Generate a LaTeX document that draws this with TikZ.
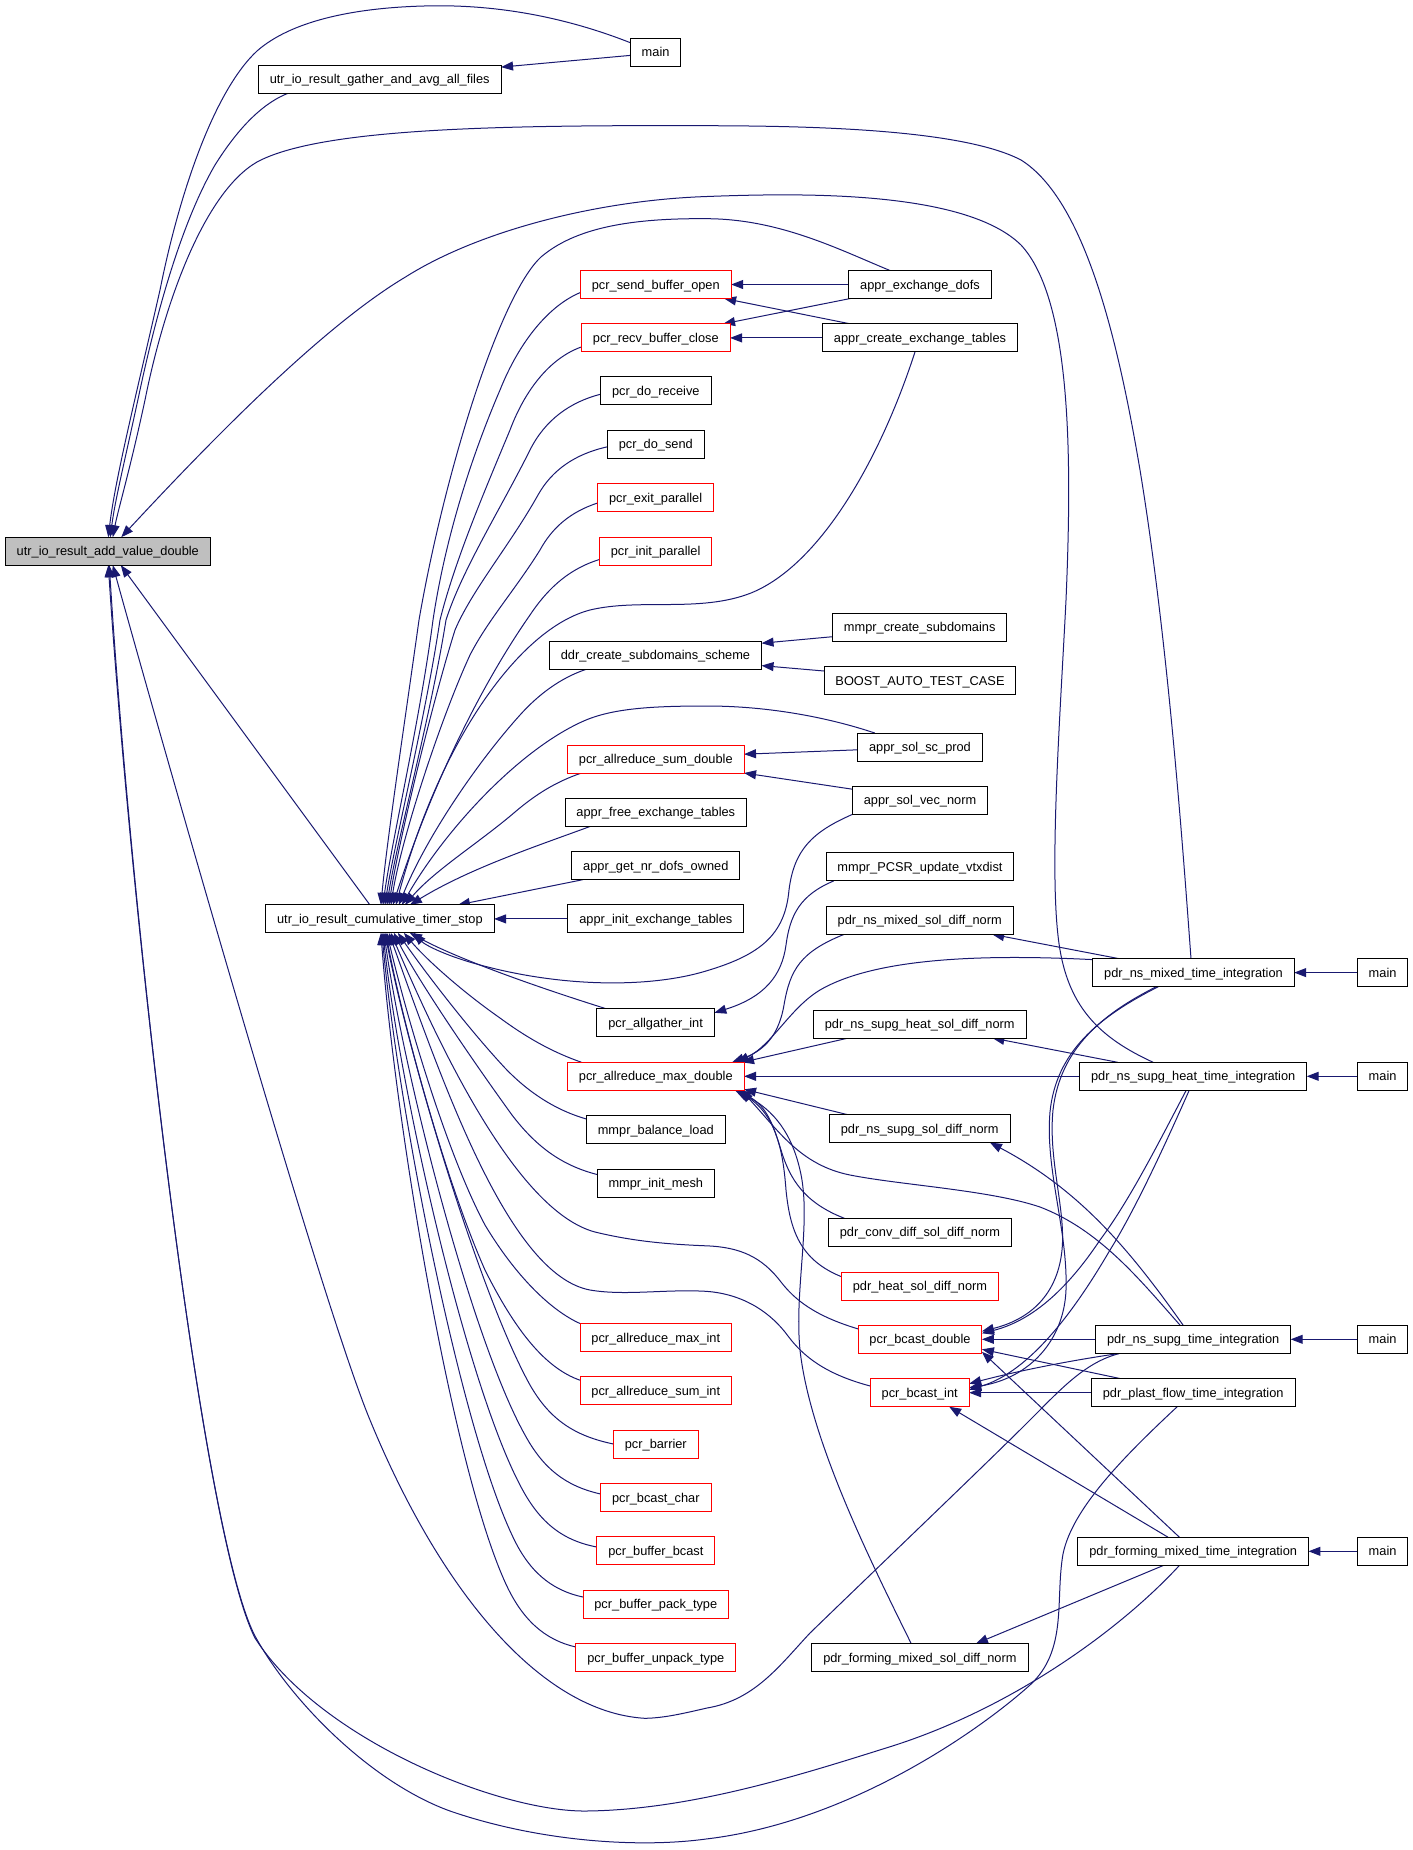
\documentclass[tikz,border=0pt]{standalone}
\usepackage{fontspec}
\setmainfont{Liberation Sans}
\usetikzlibrary{arrows.meta,calc}
\definecolor{edgeblue}{HTML}{191970}
\definecolor{boxgray}{HTML}{BFBFBF}
\pgfdeclarelayer{bg}
\pgfsetlayers{bg,main}
\begin{document}
\begin{tikzpicture}[x=1pt,y=-1pt,
  box/.style={draw=black, fill=white, line width=0.9pt, rectangle, minimum height=28pt,
    inner xsep=11.4pt, inner ysep=0pt, text height=11.5pt, text depth=2.5pt, outer sep=0pt,
    font=\fontsize{12.8pt}{15pt}\selectfont},
  rbox/.style={box, draw=red},
  gbox/.style={box, fill=boxgray},
  callline/.style={draw=edgeblue, line width=1pt, -{Triangle[length=12pt,width=9pt]}}]
\useasboundingbox (0,0) rectangle (1413,1850);
% nodes
\node[gbox] (A) at (107.8,551.2) {utr\_io\_result\_add\_value\_double};
\node[box] (main1) at (655.6,52.4) {main};
\node[box] (G) at (379.7,79.1) {utr\_io\_result\_gather\_and\_avg\_all\_files};
\node[box] (C) at (379.9,918.9) {utr\_io\_result\_cumulative\_timer\_stop};
\node[rbox] (SO) at (655.8,284.5) {pcr\_send\_buffer\_open};
\node[rbox] (RC) at (655.8,337.9) {pcr\_recv\_buffer\_close};
\node[box] (DR) at (655.8,390.9) {pcr\_do\_receive};
\node[box] (DS) at (655.8,444.2) {pcr\_do\_send};
\node[rbox] (EP) at (655.6,497.6) {pcr\_exit\_parallel};
\node[rbox] (IP) at (655.6,551) {pcr\_init\_parallel};
\node[box] (DDR) at (655.5,655.2) {ddr\_create\_subdomains\_scheme};
\node[rbox] (SD) at (655.8,759) {pcr\_allreduce\_sum\_double};
\node[box] (FET) at (655.8,812.2) {appr\_free\_exchange\_tables};
\node[box] (GND) at (655.8,865.6) {appr\_get\_nr\_dofs\_owned};
\node[box] (IET) at (655.8,918.9) {appr\_init\_exchange\_tables};
\node[box] (AG) at (655.6,1022.8) {pcr\_allgather\_int};
\node[rbox] (MD) at (655.8,1076.3) {pcr\_allreduce\_max\_double};
\node[box] (MBL) at (655.8,1129.6) {mmpr\_balance\_load};
\node[box] (MIM) at (655.8,1183) {mmpr\_init\_mesh};
\node[rbox] (AMI) at (655.8,1337.5) {pcr\_allreduce\_max\_int};
\node[rbox] (ASI) at (655.8,1390.7) {pcr\_allreduce\_sum\_int};
\node[rbox] (BAR) at (655.8,1444) {pcr\_barrier};
\node[rbox] (BC) at (655.8,1497.5) {pcr\_bcast\_char};
\node[rbox] (BB) at (655.8,1550.8) {pcr\_buffer\_bcast};
\node[rbox] (PT) at (655.8,1604.3) {pcr\_buffer\_pack\_type};
\node[rbox] (UT) at (655.8,1657.6) {pcr\_buffer\_unpack\_type};
\node[box] (ED) at (920,284.5) {appr\_exchange\_dofs};
\node[box] (CT) at (920,337.9) {appr\_create\_exchange\_tables};
\node[box] (MCS) at (919.7,627) {mmpr\_create\_subdomains};
\node[box] (BOOST) at (920,680.5) {BOOST\_AUTO\_TEST\_CASE};
\node[box] (SCP) at (920,747) {appr\_sol\_sc\_prod};
\node[box] (SVN) at (920,800.4) {appr\_sol\_vec\_norm};
\node[box] (PCSR) at (920,866.9) {mmpr\_PCSR\_update\_vtxdist};
\node[box] (NMSD) at (919.7,920.3) {pdr\_ns\_mixed\_sol\_diff\_norm};
\node[box] (NSHSD) at (919.7,1024) {pdr\_ns\_supg\_heat\_sol\_diff\_norm};
\node[box] (NSSD) at (919.7,1128.5) {pdr\_ns\_supg\_sol\_diff\_norm};
\node[box] (CDSD) at (920,1232.3) {pdr\_conv\_diff\_sol\_diff\_norm};
\node[rbox] (HSD) at (920,1286) {pdr\_heat\_sol\_diff\_norm};
\node[rbox] (BD) at (920,1339.3) {pcr\_bcast\_double};
\node[rbox] (BI) at (919.7,1392.7) {pcr\_bcast\_int};
\node[box] (FMSD) at (919.9,1657.6) {pdr\_forming\_mixed\_sol\_diff\_norm};
\node[box] (NMT) at (1193.5,972.6) {pdr\_ns\_mixed\_time\_integration};
\node[box] (NSHT) at (1193.2,1076.3) {pdr\_ns\_supg\_heat\_time\_integration};
\node[box] (NST) at (1193.2,1339.3) {pdr\_ns\_supg\_time\_integration};
\node[box] (PF) at (1193.2,1392.7) {pdr\_plast\_flow\_time\_integration};
\node[box] (FMT) at (1193.2,1551.3) {pdr\_forming\_mixed\_time\_integration};
\node[box] (main2) at (1382.6,972.6) {main};
\node[box] (main3) at (1382.6,1076.3) {main};
\node[box] (main4) at (1382.6,1339.3) {main};
\node[box] (main5) at (1382.6,1551.3) {main};
\begin{pgfonlayer}{bg}
% ---- into A
\draw[callline] ($(main1.north west)+(0,4.3)$) .. controls (560,15) and (490,4) .. (424,6)
  .. controls (350,8) and (290,22) .. (257,51) .. controls (215,90) and (180,190) .. (160,290)
  .. controls (135,400) and (115,480) .. ($(A.north)+(0.5,0)$);
\draw[callline] ($(G.south west)+(30.2,0)$) .. controls (265,102) and (240,125) .. (215,165)
  .. controls (180,225) and (155,320) .. (140,390) .. controls (125,460) and (115,500) .. ($(A.north)+(2.5,0)$);
\draw[callline] ($(NMT.north)+(-2.5,0)$) .. controls (1183,850) and (1168,640) .. (1140,470)
  .. controls (1118,340) and (1085,200) .. (1021,160) .. controls (960,128) and (800,126) .. (707,125.7)
  .. controls (500,125) and (320,128) .. (257,162) .. controls (205,192) and (165,300) .. (145,400)
  .. controls (130,470) and (118,510) .. ($(A.north)+(5,0)$);
\draw[callline] ($(NSHT.north)+(-40,0)$) .. controls (1100,1038) and (1070,1008) .. (1060,950)
  .. controls (1048,880) and (1060,720) .. (1066,600) .. controls (1072,460) and (1072,300) .. (1021,245)
  .. controls (965,190) and (800,193) .. (707,196.5) .. controls (600,200) and (480,230) .. (405.8,276.8)
  .. controls (330,322) and (230,420) .. ($(A.north)+(13.5,0)$);
\draw[callline] ($(C.north)+(-10,0)$) -- ($(A.south)+(13,0)$);
\draw[callline] ($(NST.south west)+(24.4,0)$) .. controls (1085,1362) and (1060,1390) .. (1030,1420)
  .. controls (985,1465) and (875,1570) .. (810,1633) .. controls (780,1665) and (755,1700) .. (707,1708)
  .. controls (685,1713) and (665,1718) .. (644.8,1718.3) .. controls (540,1712) and (440,1590) .. (370,1420)
  .. controls (320,1300) and (150,700) .. ($(A.south)+(5,0)$);
\draw[callline] ($(PF.south)+(-16,0)$) .. controls (1120,1460) and (1072,1510) .. (1063,1554)
  .. controls (1055,1600) and (1068,1650) .. (1030,1685) .. controls (980,1730) and (850,1822) .. (706,1839)
  .. controls (640,1848) and (540,1842) .. (450,1811) .. controls (370,1782) and (290,1700) .. (255,1636)
  .. controls (200,1530) and (130,900) .. ($(A.south)+(0.5,0)$);
\draw[callline] ($(FMT.south)+(-13.7,0)$) .. controls (1120,1630) and (1010,1710) .. (886,1748)
  .. controls (800,1775) and (690,1810) .. (586,1811) .. controls (500,1812) and (320,1740) .. (255,1638)
  .. controls (200,1530) and (130,900) .. ($(A.south)+(1.5,0)$);
% ---- main -> G
\draw[callline] ($(main1.west)+(0,3)$) -- ($(G.north east)+(0,2)$);
% ---- into C (top)
\draw[callline] ($(ED.north)+(-30,0)$) .. controls (840,250) and (780,219) .. (707,218.7)
  .. controls (630,218) and (575,228) .. (541,257) .. controls (500,295) and (445,470) .. (419,620)
  .. controls (405,720) and (387,840) .. ($(C.north)+(1,0)$);
\draw[callline] ($(SO.west)+(0,8)$) .. controls (550,305) and (520,340) .. (500,390)
  .. controls (470,460) and (445,540) .. (433,620) .. controls (420,720) and (392,840) .. ($(C.north)+(3,0)$);
\draw[callline] ($(RC.west)+(0,9)$) .. controls (550,358) and (525,390) .. (510,430)
  .. controls (485,490) and (455,560) .. (440,620) .. controls (425,720) and (395,840) .. ($(C.north)+(5,0)$);
\draw[callline] ($(DR.west)+(0,3.3)$) .. controls (570,402) and (545,420) .. (530,450)
  .. controls (500,510) and (462,570) .. (446,620) .. controls (430,720) and (397,840) .. ($(C.north)+(7,0)$);
\draw[callline] ($(DS.west)+(0,2.6)$) .. controls (575,454) and (552,470) .. (538,495)
  .. controls (510,545) and (472,590) .. (455,630) .. controls (433,700) and (399,840) .. ($(C.north)+(9,0)$);
\draw[callline] ($(EP.west)+(0,5.4)$) .. controls (570,512) and (552,528) .. (540,550)
  .. controls (515,590) and (488,620) .. (470,655) .. controls (440,720) and (401,840) .. ($(C.north)+(11,0)$);
\draw[callline] ($(IP.west)+(0,8.5)$) .. controls (572,568) and (550,585) .. (530,615)
  .. controls (495,665) and (440,760) .. ($(C.north)+(13,0)$);
\draw[callline] ($(CT.south)+(-5,0)$) .. controls (880,460) and (820,565) .. (751,593)
  .. controls (700,613) and (640,598) .. (590,610) .. controls (520,628) and (440,740) .. ($(C.north)+(16,0)$);
\draw[callline] ($(DDR.south west)+(37,0)$) .. controls (560,678) and (538,695) .. (520,715)
  .. controls (475,765) and (425,840) .. ($(C.north)+(19,0)$);
\draw[callline] ($(SCP.north west)+(17,0)$) .. controls (830,718) and (770,706) .. (707,706)
  .. controls (655,706) and (615,708) .. (586,720) .. controls (520,748) and (445,830) .. ($(C.north)+(22,0)$);
\draw[callline] ($(SD.south west)+(14,0)$) .. controls (555,782) and (535,795) .. (515,812)
  .. controls (480,842) and (435,870) .. ($(C.north)+(25,0)$);
\draw[callline] ($(FET.south west)+(25.7,0)$) .. controls (540,845) and (470,868) .. ($(C.north)+(30,0)$);
\draw[callline] ($(GND.south west)+(11.3,0)$) -- ($(C.north)+(78,0)$);
\draw[callline] (IET.west) -- (C.east);
% ---- into C (bottom)
\draw[callline] (SVN.south west) .. controls (812,832) and (794,850) .. (789,890)
  .. controls (785,935) and (760,955) .. (706,971) .. controls (650,988) and (560,988) .. (473,963)
  .. controls (445,955) and (425,945) .. ($(C.south)+(34,0)$);
\draw[callline] ($(AG.north west)+(9.5,0)$) .. controls (540,988) and (460,960) .. ($(C.south)+(30,0)$);
\draw[callline] ($(MD.north west)+(14,0)$) .. controls (555,1053) and (530,1040) .. (500,1018)
  .. controls (460,990) and (425,958) .. ($(C.south)+(24,0)$);
\draw[callline] ($(MBL.north west)+(0,3.4)$) .. controls (555,1110) and (528,1092) .. (505,1068)
  .. controls (465,1025) and (420,965) .. ($(C.south)+(18,0)$);
\draw[callline] ($(MIM.north west)+(0,5.5)$) .. controls (560,1165) and (535,1145) .. (512,1115)
  .. controls (465,1050) and (415,975) .. ($(C.south)+(14,0)$);
\draw[callline] ($(BD.west)+(0,-10.4)$) .. controls (815,1316) and (795,1300) .. (781,1282)
  .. controls (762,1257) and (740,1247) .. (706,1245.8) .. controls (660,1244) and (628,1240) .. (595,1232)
  .. controls (520,1212) and (445,1060) .. ($(C.south)+(11,0)$);
\draw[callline] ($(BI.west)+(0,-6.7)$) .. controls (825,1374) and (803,1356) .. (788,1336)
  .. controls (772,1314) and (745,1294) .. (706,1291.3) .. controls (665,1289) and (625,1296) .. (590,1290)
  .. controls (510,1275) and (445,1090) .. ($(C.south)+(9,0)$);
\draw[callline] (AMI.north west) .. controls (550,1310) and (515,1275) .. (485,1225)
  .. controls (445,1150) and (405,1010) .. ($(C.south)+(7,0)$);
\draw[callline] ($(ASI.west)+(0,-10.5)$) .. controls (545,1368) and (515,1330) .. (485,1270)
  .. controls (445,1180) and (402,1020) .. ($(C.south)+(6,0)$);
\draw[callline] (BAR.west) .. controls (575,1436) and (550,1420) .. (530,1385)
  .. controls (480,1295) and (410,1060) .. ($(C.south)+(5,0)$);
\draw[callline] ($(BC.west)+(0,-3.5)$) .. controls (565,1486) and (543,1468) .. (525,1435)
  .. controls (472,1340) and (405,1080) .. ($(C.south)+(4,0)$);
\draw[callline] ($(BB.west)+(0,-3.8)$) .. controls (560,1540) and (538,1520) .. (520,1485)
  .. controls (465,1380) and (400,1090) .. ($(C.south)+(3,0)$);
\draw[callline] ($(PT.west)+(0,-7.3)$) .. controls (550,1590) and (528,1570) .. (512,1535)
  .. controls (458,1420) and (397,1100) .. ($(C.south)+(2,0)$);
\draw[callline] ($(UT.west)+(0,-10.6)$) .. controls (545,1640) and (522,1620) .. (505,1582)
  .. controls (450,1460) and (394,1110) .. ($(C.south)+(1,0)$);
% ---- upper right small edges
\draw[callline] (ED.west) -- (SO.east);
\draw[callline] ($(ED.south west)+(1.5,0)$) -- ($(RC.north east)+(-7,0)$);
\draw[callline] ($(CT.north west)+(28,0)$) -- ($(SO.south east)+(-7,0)$);
\draw[callline] (CT.west) -- (RC.east);
\draw[callline] ($(MCS.west)+(0,9.7)$) -- ($(DDR.north east)+(0,2)$);
\draw[callline] ($(BOOST.west)+(0,-9.5)$) -- ($(DDR.south east)+(0,-3.6)$);
\draw[callline] ($(SCP.west)+(0,2.8)$) -- ($(SD.east)+(0,-4.8)$);
\draw[callline] ($(SVN.north west)+(0,2.8)$) -- (SD.south east);
\draw[callline] ($(PCSR.south west)+(7.7,0)$) .. controls (800,895) and (790,915) .. (786,945)
  .. controls (782,975) and (765,997) .. ($(AG.north east)+(0,4)$);
% ---- into MD
\draw[callline] ($(NMSD.south west)+(18,0)$) .. controls (800,952) and (790,970) .. (784,1005)
  .. controls (778,1040) and (760,1052) .. ($(MD.north east)+(-12,0)$);
\draw[callline] ($(NMT.north west)+(0,1)$) .. controls (1000,955) and (880,955) .. (820,990)
  .. controls (790,1008) and (772,1045) .. ($(MD.north east)+(-7,0)$);
\draw[callline] ($(NSHSD.south west)+(35,0)$) -- ($(MD.north east)+(-2,0)$);
\draw[callline] (NSHT.west) -- (MD.east);
\draw[callline] ($(NSSD.north west)+(17.6,0)$) -- ($(MD.south east)+(0,-1)$);
\draw[callline] ($(NST.north)+(-13,0)$) .. controls (1140,1280) and (1100,1230) .. (1040,1207)
  .. controls (990,1190) and (900,1185) .. (850,1175) .. controls (800,1165) and (778,1130) .. ($(MD.south east)+(-3,0)$);
\draw[callline] ($(CDSD.north west)+(16,0)$) .. controls (805,1203) and (790,1180) .. (781,1150)
  .. controls (773,1125) and (768,1108) .. ($(MD.south east)+(-5,0)$);
\draw[callline] ($(HSD.west)+(0,-9.3)$) .. controls (800,1260) and (790,1230) .. (786,1190)
  .. controls (783,1150) and (776,1115) .. ($(MD.south east)+(-7,0)$);
\draw[callline] ($(FMSD.north)+(-8.7,0)$) .. controls (870,1560) and (810,1440) .. (800,1350)
  .. controls (794,1290) and (812,1220) .. (800,1170) .. controls (792,1135) and (775,1110) .. ($(MD.south east)+(-9,0)$);
% ---- right column
\draw[callline] ($(NMT.north west)+(26,0)$) -- ($(NMSD.south east)+(-21,0)$);
\draw[callline] ($(NSHT.north west)+(38,0)$) -- ($(NSHSD.south east)+(-33.6,0)$);
\draw[callline] ($(NST.north)+(-10,0)$) .. controls (1130,1250) and (1080,1190) .. ($(NSSD.south east)+(-20,0)$);
\draw[callline] ($(NMT.south)+(-37,0)$) .. controls (1100,1015) and (1060,1050) .. (1053,1110)
  .. controls (1048,1160) and (1066,1210) .. (1062,1250) .. controls (1058,1290) and (1035,1318) .. ($(BD.east)+(0,-8)$);
\draw[callline] ($(NMT.south)+(-35,0)$) .. controls (1098,1017) and (1056,1052) .. (1050,1112)
  .. controls (1045,1170) and (1068,1230) .. (1066,1290) .. controls (1064,1340) and (1030,1378) .. ($(BI.east)+(0,-5)$);
\draw[callline] ($(NSHT.south)+(-7,0)$) .. controls (1160,1140) and (1130,1200) .. (1100,1240)
  .. controls (1070,1285) and (1035,1320) .. ($(BD.east)+(0,-6)$);
\draw[callline] ($(NSHT.south)+(-4,0)$) .. controls (1165,1145) and (1135,1210) .. (1110,1250)
  .. controls (1075,1310) and (1030,1372) .. ($(BI.east)+(0,-3)$);
\draw[callline] (NST.west) -- (BD.east);
\draw[callline] ($(NST.south west)+(24.4,0)$) .. controls (1060,1362) and (1010,1373) .. ($(BI.east)+(0,-9)$);
\draw[callline] ($(PF.north west)+(29.4,0)$) -- ($(BD.east)+(0,10)$);
\draw[callline] (PF.west) -- (BI.east);
\draw[callline] ($(FMT.north)+(-13.7,0)$) -- ($(BD.south east)+(0,-1.5)$);
\draw[callline] ($(FMT.north)+(-25,0)$) -- ($(BI.south east)+(-20,0)$);
\draw[callline] ($(FMT.south)+(-29.5,0)$) -- ($(FMSD.north east)+(-52,0)$);
\draw[callline] (main2.west) -- (NMT.east);
\draw[callline] (main3.west) -- (NSHT.east);
\draw[callline] (main4.west) -- (NST.east);
\draw[callline] (main5.west) -- (FMT.east);
\end{pgfonlayer}
\end{tikzpicture}
\end{document}
